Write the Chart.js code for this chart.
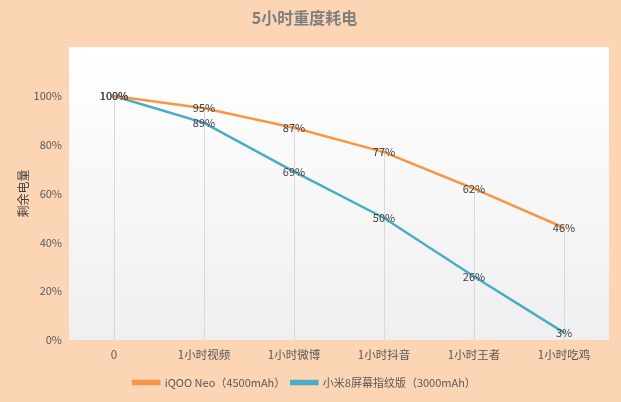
<!DOCTYPE html>
<html>
<head>
<meta charset="utf-8">
<script src="https://cdn.jsdelivr.net/npm/chart.js@4"></script>
<style>
  html, body { margin: 0; padding: 0; background: #FCD5B5; }
  #wrap { width: 621px; height: 402px; }
</style>
</head>
<body>
<div id="wrap"><canvas id="myChart" width="621" height="402"></canvas></div>
<script>
// 数据
const categories = ['0', '1小时视频', '1小时微博', '1小时抖音', '1小时王者', '1小时吃鸡'];
const iqooValues = [100, 95, 87, 77, 62, 46];
const miValues = [100, 89, 69, 50, 26, 3];
const yTicks = [0, 20, 40, 60, 80, 100];

const FONT = '"Noto Sans CJK SC", "Noto Sans", sans-serif';
const TEXT = '#595959';

// 绘图区背景 + 垂直线
const plotBg = {
  id: 'plotBg',
  beforeDatasetsDraw(chart) {
    const { ctx, chartArea: a } = chart;
    const g = ctx.createLinearGradient(0, a.top, 0, a.bottom);
    g.addColorStop(0, '#FFFFFF');
    g.addColorStop(1, '#EFEFF1');
    ctx.save();
    ctx.fillStyle = g;
    ctx.fillRect(a.left, a.top, a.right - a.left, a.bottom - a.top);
    // 垂直线
    const m0 = chart.getDatasetMeta(0).data;
    const m1 = chart.getDatasetMeta(1).data;
    ctx.strokeStyle = '#D9D9D9';
    ctx.lineWidth = 1;
    m0.forEach((p, i) => {
      const top = Math.min(p.y, m1[i].y);
      const x = Math.round(p.x) + 0.5;
      ctx.beginPath();
      ctx.moveTo(x, top);
      ctx.lineTo(x, a.bottom);
      ctx.stroke();
    });
    ctx.restore();
  }
};

// 数据标签
const pointLabels = {
  id: 'pointLabels',
  afterDatasetsDraw(chart) {
    const { ctx } = chart;
    ctx.save();
    ctx.font = '11px ' + FONT;
    ctx.fillStyle = '#404040';
    ctx.textAlign = 'center';
    ctx.textBaseline = 'middle';
    chart.data.datasets.forEach((ds, di) => {
      chart.getDatasetMeta(di).data.forEach((p, i) => {
        ctx.fillText(ds.data[i] + '%', p.x, p.y);
      });
    });
    ctx.restore();
  }
};

const myChart = new Chart(document.getElementById('myChart'), {
  type: 'line',
  data: {
    labels: categories,
    datasets: [{
      label: 'iQOO Neo（4500mAh）',
      data: iqooValues,
      borderColor: '#F79646',
      backgroundColor: '#F79646',
      borderWidth: 2.5,
      pointRadius: 0,
      tension: 0
    }, {
      label: '小米8屏幕指纹版（3000mAh）',
      data: miValues,
      borderColor: '#4BACC6',
      backgroundColor: '#4BACC6',
      borderWidth: 2.5,
      pointRadius: 0,
      tension: 0
    }]
  },
  options: {
    responsive: false,
    animation: false,
    layout: { padding: { left: 0, right: 12, top: 0, bottom: 4 } },
    plugins: {
      title: {
        display: true,
        text: '5小时重度耗电',
        color: '#7F7F7F',
        font: { family: FONT, size: 16, weight: 'bold' },
        padding: { top: 8, bottom: 20 }
      },
      legend: {
        position: 'bottom',
        labels: {
          color: TEXT,
          font: { family: FONT, size: 11 },
          boxWidth: 26,
          boxHeight: 3,
          padding: 6
        }
      },
      tooltip: { enabled: false }
    },
    scales: {
      x: {
        offset: true,
        grid: { display: false, drawTicks: false },
        border: { display: false },
        ticks: { color: TEXT, font: { family: FONT, size: 11.5 }, padding: 8 },
        afterFit(scale) { scale.height = 31; }
      },
      y: {
        min: 0,
        max: 120,
        afterBuildTicks(scale) {
          scale.ticks = yTicks.concat([120]).map(v => ({ value: v }));
        },
        grid: { display: false, drawTicks: false },
        border: { display: false },
        ticks: {
          color: TEXT,
          font: { family: FONT, size: 11 },
          padding: 7,
          callback: v => v > 100 ? '' : v + '%'
        },
        title: {
          display: true,
          text: '剩余电量',
          color: '#404040',
          font: { family: FONT, size: 12 },
          padding: { top: 16, bottom: 0 }
        },
        afterFit(scale) { scale.width = 69; }
      }
    }
  },
  plugins: [plotBg, pointLabels]
});
</script>
</body>
</html>
